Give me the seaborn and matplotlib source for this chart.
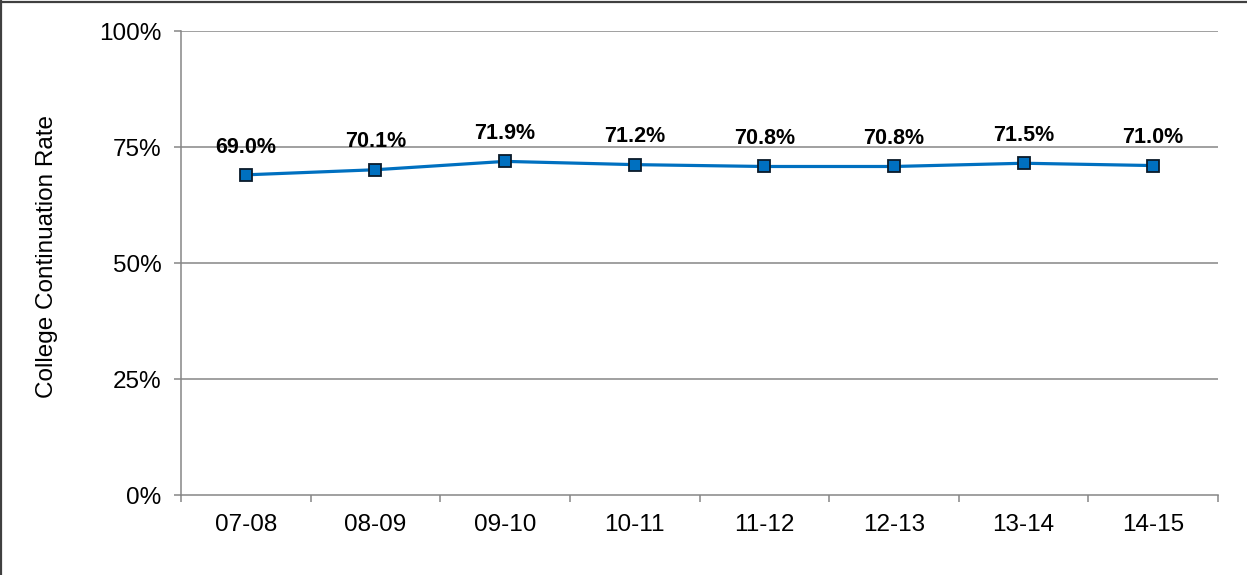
import matplotlib
matplotlib.use("Agg")
import matplotlib.pyplot as plt
from matplotlib.lines import Line2D
from matplotlib.ticker import FixedLocator, PercentFormatter
import seaborn as sns
import pandas as pd

years = ["07-08", "08-09", "09-10", "10-11", "11-12", "12-13", "13-14", "14-15"]
rates = [69.0, 70.1, 71.9, 71.2, 70.8, 70.8, 71.5, 71.0]
y_ticks = [0, 25, 50, 75, 100]
y_label = "College Continuation Rate"

sns.set_theme(style="white")
plt.rcParams['font.family'] = ['Liberation Sans', 'DejaVu Sans']

df = pd.DataFrame({"year": years, "rate": rates, "pos": range(len(years))})

fig = plt.figure(figsize=(12.47, 5.75), dpi=100)
ax = fig.add_axes([181/1247, 80/575, 1037/1247, 464/575])

grid_c = "#868686"
for yt in y_ticks[1:]:
    ax.axhline(yt, color=grid_c, lw=1.1, zorder=1)

sns.lineplot(data=df, x="pos", y="rate", ax=ax, color="#0070C0", lw=2.3,
             marker="s", markersize=8.5, markerfacecolor="#0070C0",
             markeredgecolor="#0a1a2a", markeredgewidth=1.3, zorder=3)

for x, v in zip(df["pos"], rates):
    ax.annotate(f"{v:.1f}%", (x, v), xytext=(0, 20), textcoords="offset points",
                ha="center", va="center", fontsize=15.5, fontweight="bold", color="black")

ax.set_xlim(-0.5, len(years) - 0.5)
ax.set_ylim(0, 100)
ax.set_xticks(range(len(years)))
ax.set_xticklabels(years)
ax.xaxis.set_minor_locator(FixedLocator([i - 0.5 for i in range(len(years) + 1)]))
ax.set_yticks(y_ticks)
ax.yaxis.set_major_formatter(PercentFormatter(decimals=0))

ax.tick_params(axis="x", which="major", length=0, pad=14, labelsize=17.5, colors="black")
ax.tick_params(axis="x", which="minor", length=5, width=1.1, color=grid_c, direction="out", bottom=True)
ax.tick_params(axis="y", which="major", length=5, width=1.1, color=grid_c, direction="out",
               pad=9, labelsize=17.5, labelcolor="black", left=True)

for s in ["top", "right"]:
    ax.spines[s].set_visible(False)
for s in ["left", "bottom"]:
    ax.spines[s].set_color(grid_c)
    ax.spines[s].set_linewidth(1.1)

ax.set_xlabel("")
ax.set_ylabel(y_label, fontsize=17.5, color="black")
ax.yaxis.set_label_coords(-0.119, 0.515)

fig.add_artist(Line2D([0.0012, 0.0012], [0, 1], transform=fig.transFigure, color="#404040", lw=1.6))
fig.add_artist(Line2D([0, 1], [1 - 2/575, 1 - 2/575], transform=fig.transFigure, color="#404040", lw=1.6))

fig.savefig("out.png", dpi=100, facecolor="white")
